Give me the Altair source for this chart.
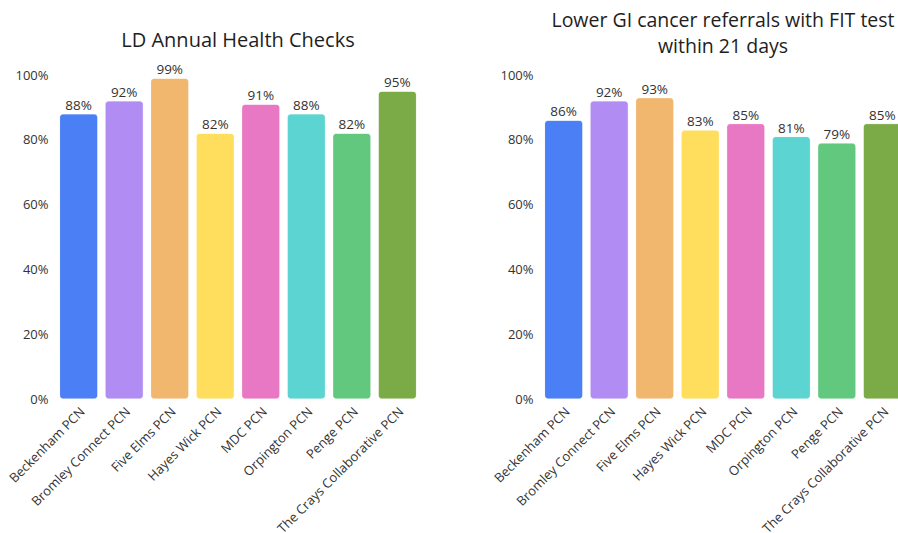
import altair as alt
import pandas as pd

pcns = ["Beckenham PCN", "Bromley Connect PCN", "Five Elms PCN", "Hayes Wick PCN",
        "MDC PCN", "Orpington PCN", "Penge PCN", "The Crays Collaborative PCN"]
ld_checks = [88, 92, 99, 82, 91, 88, 82, 95]
fit_referrals = [86, 92, 93, 83, 85, 81, 79, 85]
colors = ["#4a7ff6", "#b08cf3", "#f2b76e", "#ffdd5d", "#e878c3", "#5cd4d2", "#62c87e", "#7aab46"]
y_ticks = [0, 20, 40, 60, 80, 100]

FONT = "Open Sans"
TXT = "#333333"


def panel(values, title, offset, title_size):
    df = pd.DataFrame({"pcn": pcns, "value": values})
    base = alt.Chart(df).encode(
        x=alt.X("pcn:N", sort=pcns, title=None,
                scale=alt.Scale(paddingInner=0.16, paddingOuter=0.1),
                axis=alt.Axis(labelAngle=-45, ticks=False, domain=False,
                              labelFont=FONT, labelFontSize=13, labelColor=TXT,
                              labelPadding=6, labelLimit=400)),
        y=alt.Y("value:Q", title=None,
                scale=alt.Scale(domain=[0, 100], nice=False),
                axis=alt.Axis(values=y_ticks, labelExpr="datum.value + '%'",
                              ticks=False, domain=False, grid=False,
                              labelFont=FONT, labelFontSize=13, labelColor=TXT,
                              labelPadding=7)),
    )
    bars = base.mark_bar(cornerRadius=4, stroke="white", strokeWidth=1,
                         strokeOpacity=0.5).encode(
        color=alt.Color("pcn:N", scale=alt.Scale(domain=pcns, range=colors),
                        legend=None)
    )
    labels = base.transform_calculate(lab="datum.value + '%'").mark_text(
        baseline="bottom", dy=-1, font=FONT, fontSize=13.5, color=TXT
    ).encode(text="lab:N")
    return (bars + labels).properties(
        width=366, height=324,
        title=alt.TitleParams(title, font=FONT, fontSize=title_size, fontWeight="normal",
                               color="#1e1e1e", offset=offset, lineHeight=26,
                               anchor="middle"),
    )


left = panel(ld_checks, "LD Annual Health Checks", 12, 20)
right = panel(fit_referrals, ["Lower GI cancer referrals with FIT test", "within 21 days"], 12, 19.5)

chart = alt.hconcat(left, right, spacing=71).properties(
    padding={"left": 7, "top": 10, "right": -8, "bottom": -4},
    background="white",
).configure_view(stroke=None)

chart.save("out.html", embed_options={"renderer": "svg", "actions": False})
